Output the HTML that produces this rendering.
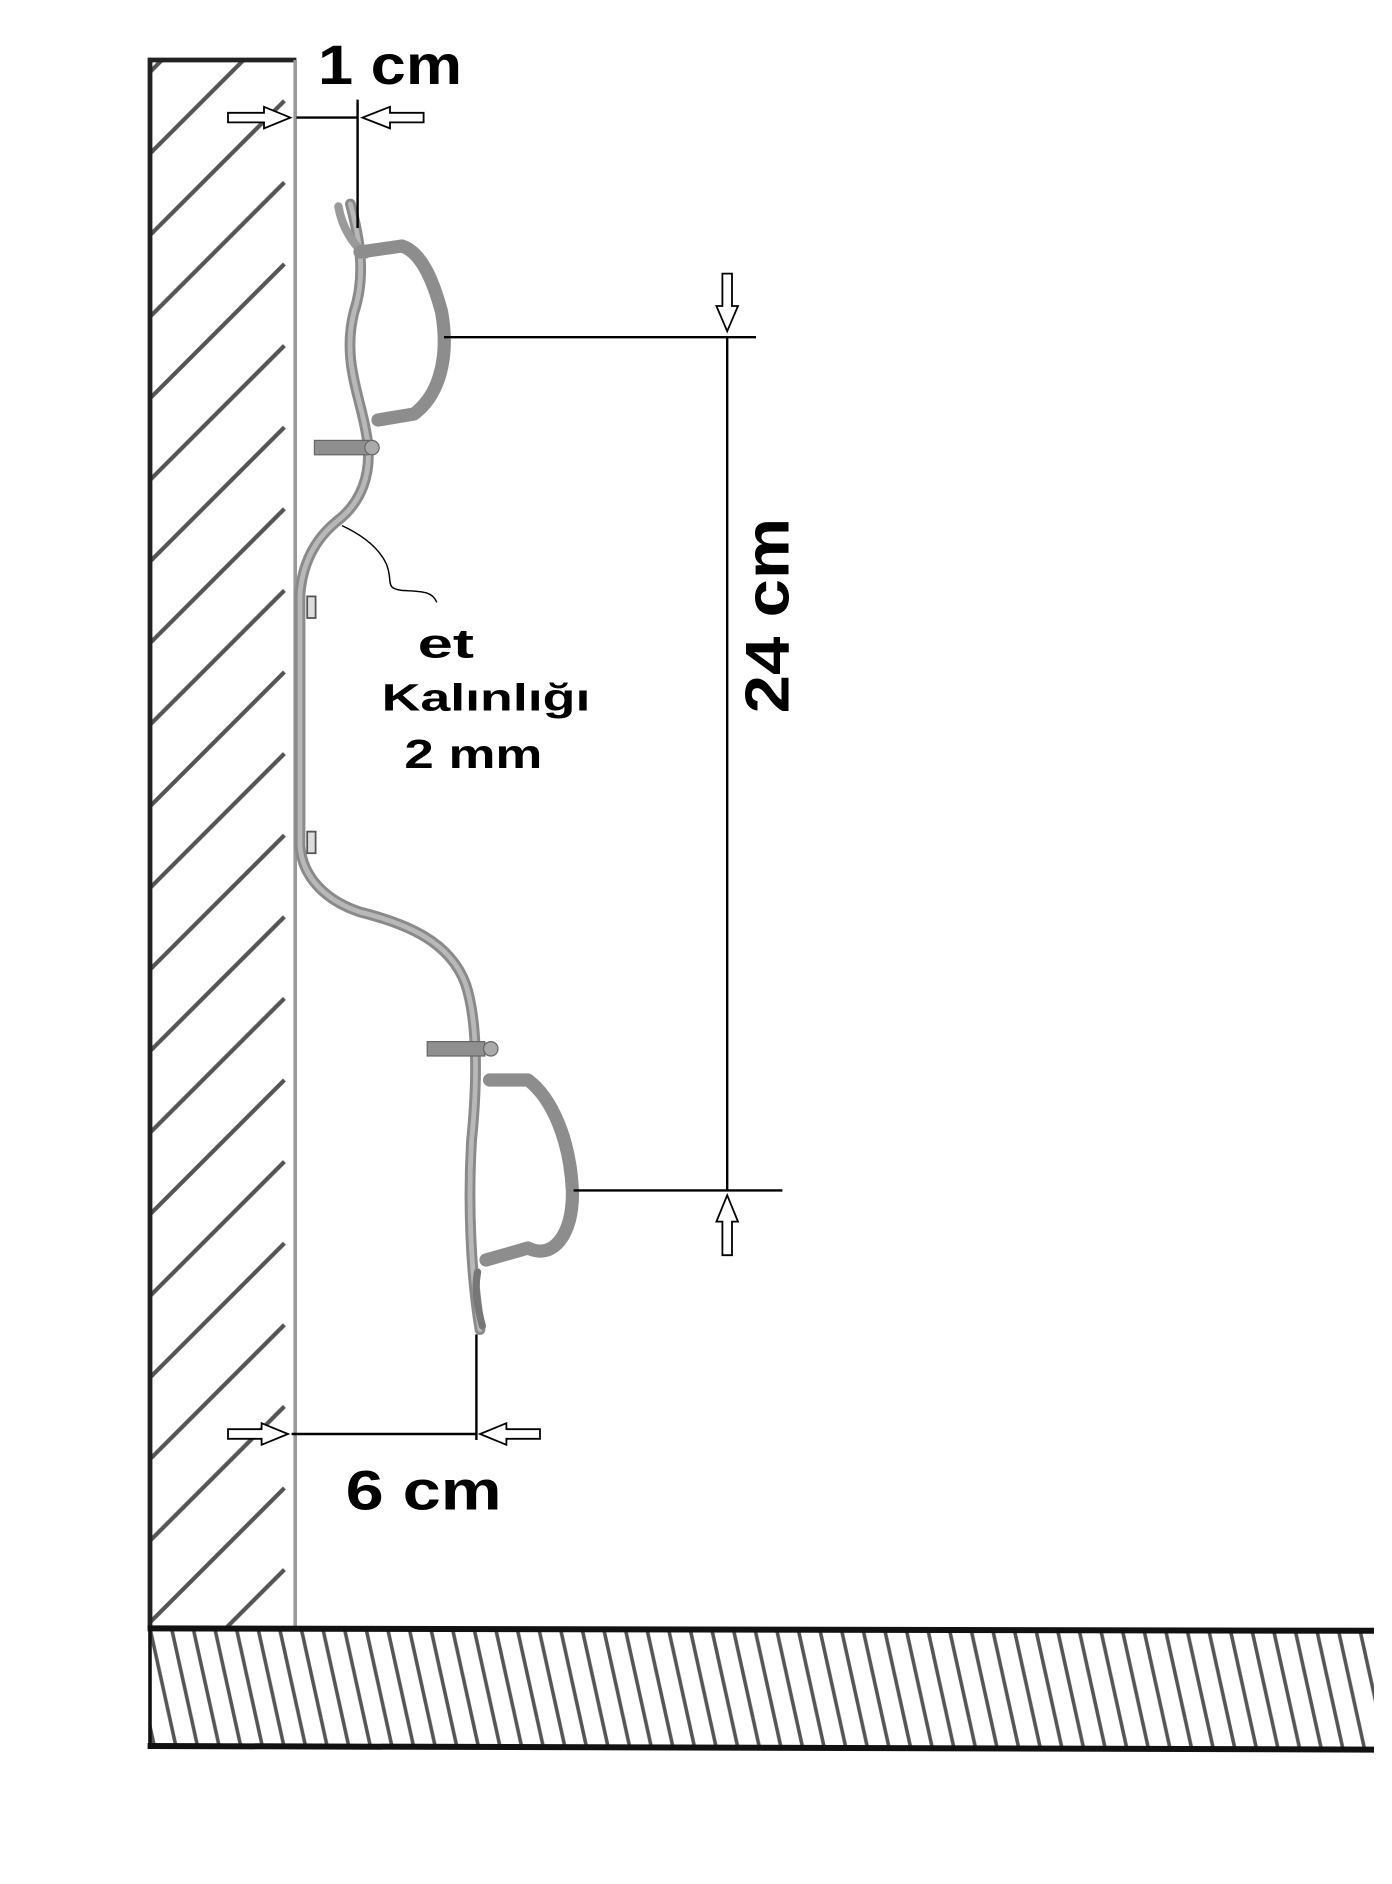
<!DOCTYPE html>
<html><head><meta charset="utf-8"><style>html,body{margin:0;padding:0;background:#fff}svg{display:block}</style></head>
<body>
<svg width="1392" height="1884" viewBox="0 0 1160 1570" xmlns="http://www.w3.org/2000/svg">
<defs>
<pattern id="hw" patternUnits="userSpaceOnUse" width="122" height="68" patternTransform="translate(125,50)">
<line x1="-10" y1="88" x2="112" y2="-34" stroke="#555" stroke-width="3.5"/>
<line x1="-10" y1="156" x2="112" y2="34" stroke="#555" stroke-width="3.5"/>
<line x1="-10" y1="20" x2="112" y2="-102" stroke="#555" stroke-width="3.5"/>
</pattern>
<pattern id="hf" patternUnits="userSpaceOnUse" width="18" height="100" patternTransform="translate(125,1357)">
<line x1="0" y1="0" x2="22" y2="100" stroke="#555" stroke-width="3"/>
<line x1="-18" y1="0" x2="4" y2="100" stroke="#555" stroke-width="3"/>
<line x1="18" y1="0" x2="40" y2="100" stroke="#555" stroke-width="3"/>
</pattern>
</defs>
<!-- wall -->
<rect x="125" y="50" width="122" height="1307" fill="url(#hw)"/>
<path d="M125 1357 V50 H247" fill="none" stroke="#222" stroke-width="4"/>
<line x1="246" y1="50" x2="246" y2="1357" stroke="#999" stroke-width="3"/>
<!-- floor -->
<rect x="125" y="1357" width="1020" height="100" fill="url(#hf)"/>
<line x1="123" y1="1357" x2="1145" y2="1359" stroke="#111" stroke-width="5"/>
<line x1="123" y1="1455" x2="1145" y2="1458" stroke="#111" stroke-width="5"/>
<line x1="125" y1="1357" x2="125" y2="1457" stroke="#111" stroke-width="3"/>

<!-- clips -->
<g fill="none" stroke-linecap="round" stroke-linejoin="round">
<path d="M292 170 C300 200 305 230 295 260 C285 300 300 330 305 360 C312 395 300 420 280 435 C262 450 252 470 250 495 L250 705 C252 730 270 750 300 760 C340 770 375 785 388 820 C398 850 398 900 393 950 C390 1000 392 1060 400 1108" stroke="#8a8a8a" stroke-width="9"/>
<path d="M292 170 C300 200 305 230 295 260 C285 300 300 330 305 360 C312 395 300 420 280 435 C262 450 252 470 250 495 L250 705 C252 730 270 750 300 760 C340 770 375 785 388 820 C398 850 398 900 393 950 C390 1000 392 1060 400 1108" stroke="#b8b8b8" stroke-width="4"/>
<path d="M282 172 C285 190 295 205 305 212" stroke="#9a9a9a" stroke-width="7"/>
<path d="M300 210 L335 205 C350 210 360 230 368 260 C375 300 365 330 345 345 L315 350" stroke="#8d8d8d" stroke-width="11"/>
<path d="M408 900 L440 900 C460 915 475 950 477 992 C478 1030 460 1050 440 1040 L405 1050" stroke="#8d8d8d" stroke-width="11"/>
<path d="M398 1060 C395 1075 398 1090 402 1105" stroke="#777" stroke-width="6"/>
</g>
<!-- bolts -->
<rect x="262" y="367" width="45" height="12" fill="#8f8f8f" stroke="#666" stroke-width="1"/>
<circle cx="310" cy="373" r="6" fill="#aaa" stroke="#666"/>
<rect x="356" y="868" width="48" height="12" fill="#8f8f8f" stroke="#666" stroke-width="1"/>
<circle cx="409" cy="874" r="6" fill="#aaa" stroke="#666"/>
<rect x="256" y="497" width="7" height="18" fill="#ddd" stroke="#555" stroke-width="1.5"/>
<rect x="256" y="693" width="7" height="18" fill="#ddd" stroke="#555" stroke-width="1.5"/>

<g stroke="#000" fill="none" stroke-width="2">
<line x1="247" y1="98" x2="298" y2="98"/>
<line x1="298" y1="83" x2="298" y2="190"/>
<path d="M190 94 H220 V89 L242 98 L220 107 V102 H190 Z" fill="#fff" stroke-width="1.5"/>
<path d="M353 94 H325 V89 L302 98 L325 107 V102 H353 Z" fill="#fff" stroke-width="1.5"/>
<line x1="370" y1="281" x2="630" y2="281"/>
<line x1="606" y1="281" x2="606" y2="992"/>
<line x1="478" y1="992" x2="652" y2="992"/>
<path d="M602 228 V255 H597 L606 276 L615 255 H610 V228 Z" fill="#fff" stroke-width="1.5"/>
<path d="M602 1046 V1018 H597 L606 996 L615 1018 H610 V1046 Z" fill="#fff" stroke-width="1.5"/>
<line x1="243" y1="1195" x2="397" y2="1195"/>
<line x1="397" y1="1112" x2="397" y2="1200"/>
<path d="M190 1191 H218 V1186 L240 1195 L218 1204 V1199 H190 Z" fill="#fff" stroke-width="1.5"/>
<path d="M450 1191 H422 V1186 L400 1195 L422 1204 V1199 H450 Z" fill="#fff" stroke-width="1.5"/>
<path d="M285 438 C300 445 315 455 322 470 C328 485 320 490 335 492 C350 493 360 492 364 502" stroke-width="1.2"/>
</g>
<g font-family="Liberation Sans, sans-serif" font-weight="bold" fill="#000">
<text x="265" y="70" font-size="46" textLength="120" lengthAdjust="spacingAndGlyphs">1 cm</text>
<text x="288" y="1258" font-size="46" textLength="130" lengthAdjust="spacingAndGlyphs">6 cm</text>
<text transform="translate(657,513) rotate(-90)" text-anchor="middle" font-size="52" textLength="163" lengthAdjust="spacingAndGlyphs">24 cm</text>
<text x="348" y="548" font-size="34" textLength="47" lengthAdjust="spacingAndGlyphs">et</text>
<text x="318" y="592" font-size="32" textLength="174" lengthAdjust="spacingAndGlyphs">Kalınlığı</text>
<text x="337" y="640" font-size="34" textLength="115" lengthAdjust="spacingAndGlyphs">2 mm</text>
</g>
</svg>
</body></html>
